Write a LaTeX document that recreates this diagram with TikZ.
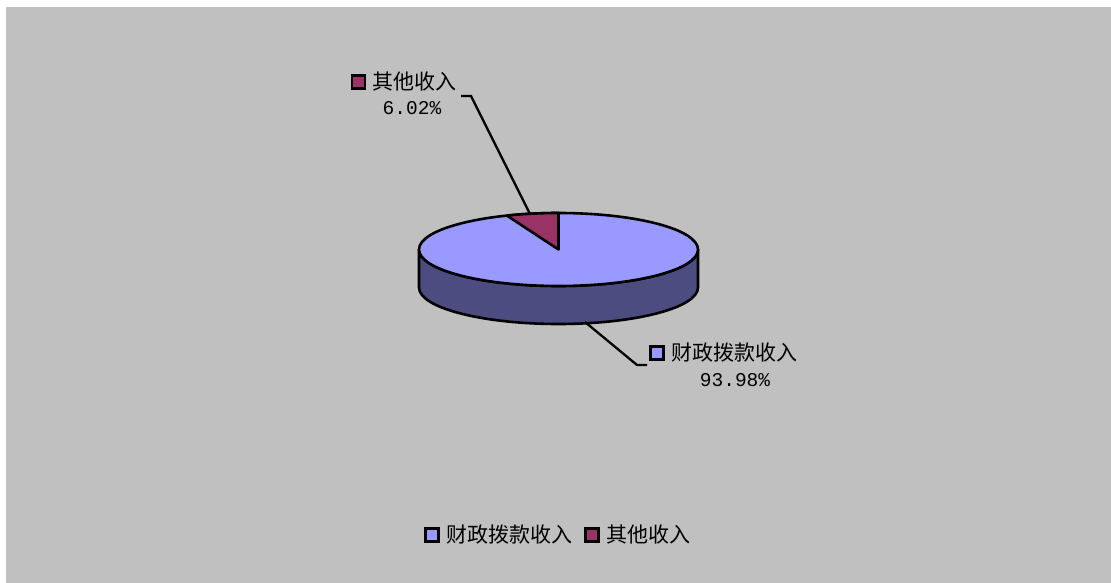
\documentclass[tikz,border=0pt]{standalone}
\usepackage{fontspec}
\newfontfamily\cjk{Noto Sans CJK SC}
\newfontfamily\numfont{Liberation Mono}
\definecolor{bggray}{HTML}{C0C0C0}
\definecolor{fintop}{HTML}{9999FF}
\definecolor{finside}{HTML}{4C4C80}
\definecolor{othfill}{HTML}{993366}
\tikzset{
  pieline/.style={draw=black,line width=2.6pt,line join=round},
  leader/.style={draw=black,line width=2.3pt},
  keybox/.style={draw=black,line width=2.4pt,minimum size=13pt,inner sep=0pt},
  cjklbl/.style={anchor=west,inner sep=0pt,font=\cjk\fontsize{21}{24}\selectfont},
  pctlbl/.style={inner sep=0pt,font=\numfont\fontsize{19.5}{22}\selectfont}
}
\begin{document}
\begin{tikzpicture}[x=1pt,y=-1pt]
\useasboundingbox (0,0) rectangle (1111,583);
\fill[bggray] (6,7) rectangle (1111,583);

% pie side and top
\coordinate (c) at (558.5,249.5);
\draw[pieline,fill=finside] (419,249.5) -- (419,287.5)
  arc[start angle=180,end angle=0,x radius=139.5,y radius=36.5]
  -- (698,249.5)
  arc[start angle=0,end angle=180,x radius=139.5,y radius=36.5] -- cycle;
\draw[pieline,fill=fintop] (c) ellipse[x radius=139.5,y radius=36.5];
\draw[pieline,fill=othfill] (c) -- ++(0,-36.5)
  arc[start angle=-90,end angle=-111.7,x radius=139.5,y radius=36.5] -- cycle;

% data labels
\node[keybox,fill=othfill] (othkey) at (358.5,82) {};
\node[cjklbl] (othlbl) at (372,82) {其他收入};
\node[pctlbl] (othpct) at (412,108) {6.02\%};
\node[keybox,fill=fintop] (finkey) at (657,353) {};
\node[cjklbl] (finlbl) at (671,353) {财政拨款收入};
\node[pctlbl] (finpct) at (735,380) {93.98\%};

% leader lines
\coordinate (othtip) at (530,214);
\coordinate (othbend) at (471,96);
\coordinate (othend) at (461,96);
\draw[leader] (othtip) -- (othbend) -- (othend);
\coordinate (fintip) at (585,322);
\coordinate (finbend) at (637,365);
\coordinate (finend) at (647,365);
\draw[leader] (fintip) -- (finbend) -- (finend);

% legend
\node[keybox,fill=fintop] (legfinkey) at (432,535) {};
\node[cjklbl] (legfin) at (446,535) {财政拨款收入};
\node[keybox,fill=othfill] (legothkey) at (592,535) {};
\node[cjklbl] (legoth) at (606,535) {其他收入};
\end{tikzpicture}
\end{document}
